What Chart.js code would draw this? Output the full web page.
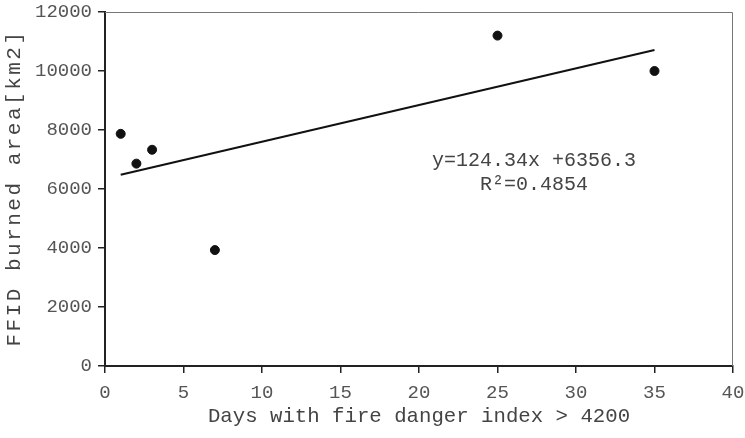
<!DOCTYPE html>
<html lang="en">
<head>
    <meta charset="UTF-8">
    <title>FFID burned area vs fire danger days</title>
    <style>
        * { margin: 0; padding: 0; box-sizing: border-box; }
        body { background-color: #fff; width: 745px; height: 438px; overflow: hidden; }
        #chart { display: block; }
    </style>
</head>
<body>
    <canvas id="chart" width="745" height="438"></canvas>

    <script src="https://cdn.jsdelivr.net/npm/chart.js@4.4.1/dist/chart.umd.min.js"></script>
    <script>
        // observed points
        const days = [1, 2, 3, 7, 25, 35];
        const burnedArea = [7870, 6860, 7330, 3930, 11200, 10000];

        // trend line ends
        const trendDays = [1, 35];
        const trendArea = [6480, 10710];

        const xTicks = [0, 5, 10, 15, 20, 25, 30, 35, 40];
        const yTicks = [0, 2000, 4000, 6000, 8000, 10000, 12000];

        const equationText = ['y=124.34x +6356.3', 'R\u00B2=0.4854'];
        const yTitle = 'FFID burned area[km2]';

        const mono = "'Liberation Mono', 'DejaVu Sans Mono', monospace";

        // thin grey frame on top and right, the spaced-out y title and the equation text
        const extras = {
            id: 'extras',
            afterDraw(chart) {
                const ctx = chart.ctx;
                const a = chart.chartArea;
                ctx.save();
                ctx.strokeStyle = '#777';
                ctx.lineWidth = 1;
                ctx.beginPath();
                ctx.moveTo(a.left, a.top + 0.5);
                ctx.lineTo(a.right - 0.5, a.top + 0.5);
                ctx.lineTo(a.right - 0.5, a.bottom);
                ctx.stroke();

                ctx.fillStyle = '#444';
                ctx.font = '20px ' + mono;
                ctx.textAlign = 'center';
                ctx.textBaseline = 'middle';
                ctx.fillText(equationText[0], 534, 161);
                ctx.fillText(equationText[1], 534, 185);

                ctx.translate(14, 188);
                ctx.rotate(-Math.PI / 2);
                ctx.font = '21px ' + mono;
                ctx.letterSpacing = '2.5px';
                ctx.fillText(yTitle, 0, 0);
                ctx.restore();
            }
        };

        new Chart(document.getElementById('chart'), {
            type: 'scatter',
            data: {
                datasets: [
                    {
                        label: 'FFID',
                        data: days.map((d, i) => ({ x: d, y: burnedArea[i] })),
                        backgroundColor: '#111',
                        borderColor: '#111',
                        pointRadius: 4.5,
                        pointHoverRadius: 4.5
                    },
                    {
                        label: 'trend',
                        type: 'line',
                        data: trendDays.map((d, i) => ({ x: d, y: trendArea[i] })),
                        borderColor: '#111',
                        borderWidth: 2,
                        pointRadius: 0,
                        fill: false
                    }
                ]
            },
            options: {
                responsive: false,
                animation: false,
                events: [],
                layout: { padding: { top: 12, right: 12, left: 0, bottom: 0 } },
                plugins: {
                    legend: { display: false },
                    tooltip: { enabled: false }
                },
                scales: {
                    x: {
                        type: 'linear',
                        min: 0,
                        max: 40,
                        afterBuildTicks: s => { s.ticks = xTicks.map(v => ({ value: v })); },
                        afterFit: s => { s.height = 72; s.paddingLeft = 0; s.paddingRight = 0; },
                        grid: { drawOnChartArea: false, drawTicks: true, tickLength: 7, color: '#222', lineWidth: 1.5 },
                        border: { display: true, color: '#222', width: 2 },
                        ticks: { color: '#555', font: { family: mono, size: 19 }, padding: 9, maxRotation: 0, callback: v => String(v) },
                        title: { display: true, text: 'Days with fire danger index > 4200', color: '#444', font: { family: mono, size: 20.7 }, padding: { top: 0, bottom: 9 } }
                    },
                    y: {
                        min: 0,
                        max: 12000,
                        afterBuildTicks: s => { s.ticks = yTicks.map(v => ({ value: v })); },
                        afterFit: s => { s.width = 105; s.paddingTop = 0; s.paddingBottom = 0; },
                        grid: { drawOnChartArea: false, drawTicks: true, tickLength: 7, color: '#222', lineWidth: 1.5 },
                        border: { display: true, color: '#222', width: 2 },
                        ticks: { color: '#555', font: { family: mono, size: 19 }, padding: 6, callback: v => String(v) },
                        title: { display: false }
                    }
                }
            },
            plugins: [extras]
        });
    </script>
</body>
</html>
